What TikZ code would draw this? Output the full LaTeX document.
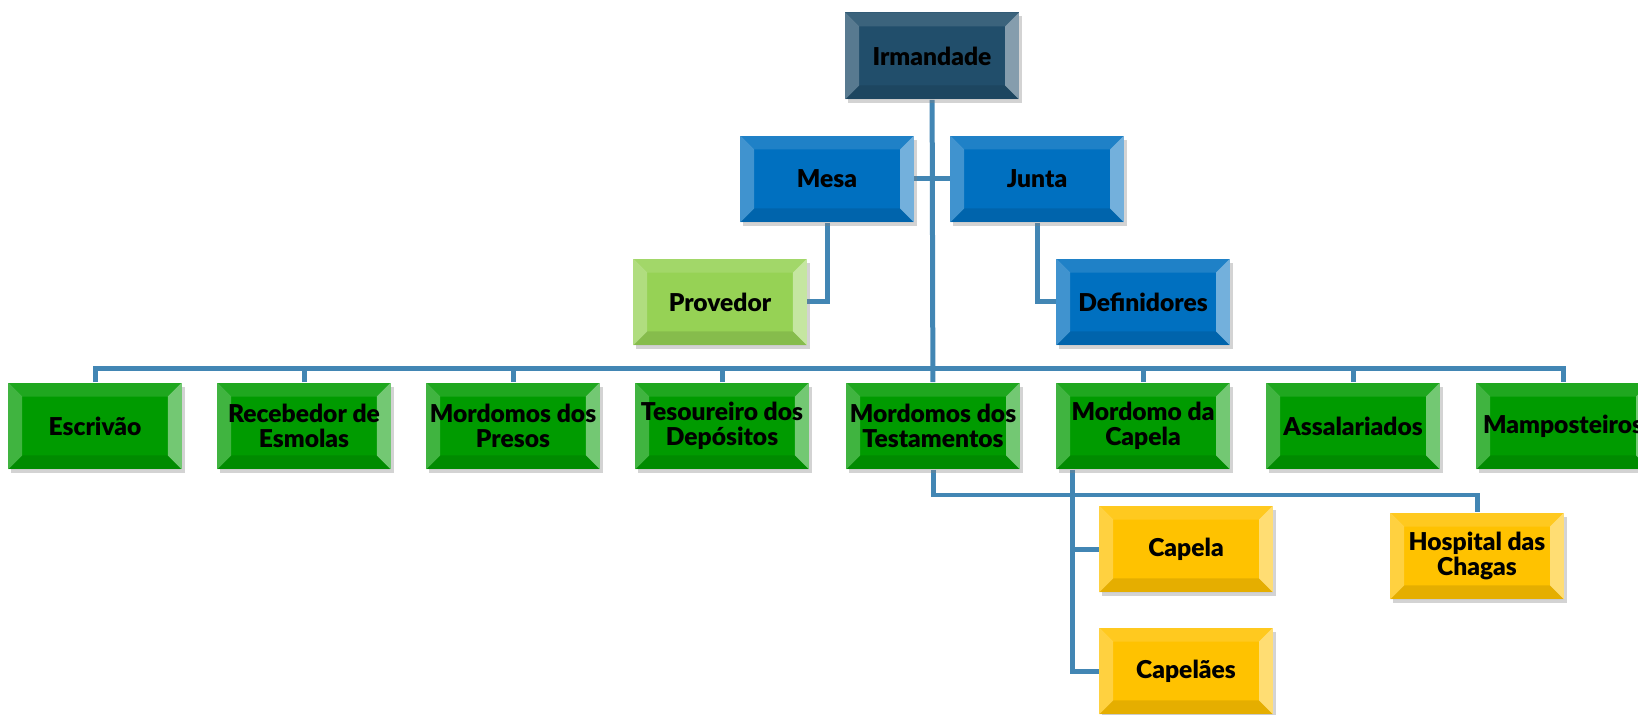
\documentclass[tikz,border=0pt]{standalone}
\usepackage{fontspec}
\setmainfont{Lato}[BoldFont={Lato Black}]
\usetikzlibrary{shadows,backgrounds}

\definecolor{irmblue}{RGB}{33,78,107}
\definecolor{mesablue}{RGB}{0,112,192}
\definecolor{provlime}{RGB}{150,210,85}
\definecolor{rowgreen}{RGB}{0,155,0}
\definecolor{chapgold}{RGB}{255,194,0}
\definecolor{linkblue}{RGB}{66,134,180}

\newcommand\bevsz{0.28cm}

\tikzset{
  orgbox/.style={rectangle, minimum width=3.48cm, minimum height=1.74cm,
    inner sep=1pt, align=center, text=black,
    font=\fontsize{14}{14.5}\selectfont\bfseries,
    drop shadow={opacity=.35, shadow xshift=.06cm, shadow yshift=-.08cm},
    path picture={
      % top
      \fill[white,opacity=.12] (path picture bounding box.north west)
        -- (path picture bounding box.north east) -- ++(-\bevsz,-\bevsz)
        -- ([shift={(\bevsz,-\bevsz)}]path picture bounding box.north west) -- cycle;
      % bottom
      \fill[black,opacity=.1] (path picture bounding box.south west)
        -- (path picture bounding box.south east) -- ++(-\bevsz,\bevsz)
        -- ([shift={(\bevsz,\bevsz)}]path picture bounding box.south west) -- cycle;
      % left
      \fill[white,opacity=.25] (path picture bounding box.south west)
        -- (path picture bounding box.north west) -- ++(\bevsz,-\bevsz)
        -- ([shift={(\bevsz,\bevsz)}]path picture bounding box.south west) -- cycle;
      % right
      \fill[white,opacity=.45] (path picture bounding box.south east)
        -- (path picture bounding box.north east) -- ++(-\bevsz,-\bevsz)
        -- ([shift={(-\bevsz,\bevsz)}]path picture bounding box.south east) -- cycle;
    }},
  topbox/.style={orgbox, fill=irmblue},
  bluebox/.style={orgbox, fill=mesablue},
  limebox/.style={orgbox, fill=provlime},
  greenbox/.style={orgbox, fill=rowgreen},
  goldbox/.style={orgbox, fill=chapgold},
  link/.style={draw=linkblue, line width=0.1cm},
}

\begin{document}
\begin{tikzpicture}[x=0.02cm, y=-0.02cm]
	\useasboundingbox (0,0) rectangle (1638,715);
	% top
	\node[topbox] (irm) at (932,56) {Irmandade};
	\node[bluebox] (mesa) at (827,179) {Mesa};
	\node[bluebox] (junta) at (1037,179) {Junta};
	\node[limebox] (prov) at (720,302) {Provedor};
	\node[bluebox] (def) at (1143,302) {Definidores};
	% row
	\node[greenbox] (escr) at (95,426) {Escrivão};
	\node[greenbox] (rec) at (304,426) {Recebedor de\\Esmolas};
	\node[greenbox] (pres) at (513,426) {Mordomos dos\\Presos};
	\node[greenbox] (tes) at (722,426) {Tesoureiro dos\\Depósitos};
	\node[greenbox] (test) at (933,426) {Mordomos dos\\Testamentos};
	\node[greenbox] (capm) at (1143,426) {Mordomo da\\Capela};
	\node[greenbox] (ass) at (1353,426) {Assalariados};
	\node[greenbox] (mamp) at (1563,426) {Mamposteiros};
	% bottom
	\node[goldbox] (capela) at (1186,549) {Capela};
	\node[goldbox] (capel) at (1186,671) {Capelães};
	\node[goldbox] (hosp) at (1477,556) {Hospital das\\Chagas};
	% connections
	\coordinate (bus) at (933,369);
	\coordinate (hj) at (1200,495);
	\begin{pgfonlayer}{background}
		\draw[link] (irm) -- (test);
		\draw[link] (mesa) -- (junta);
		\draw[link] (mesa.south) |- (prov.east);
		\draw[link] (junta.south) |- (def.west);
		\draw[link] (escr.north) |- (bus) -| (mamp.north);
		\foreach \n in {rec,pres,tes,capm,ass}
			\draw[link] (\n.north) -- (\n.north |- bus);
		\draw[link] (test.south) |- (hj) -| (hosp.north);
		\draw[link] ([xshift=0.34cm]capm.south west) |- (capela.west);
		\draw[link] ([xshift=0.34cm]capm.south west) |- (capel.west);
	\end{pgfonlayer}
\end{tikzpicture}
\end{document}
